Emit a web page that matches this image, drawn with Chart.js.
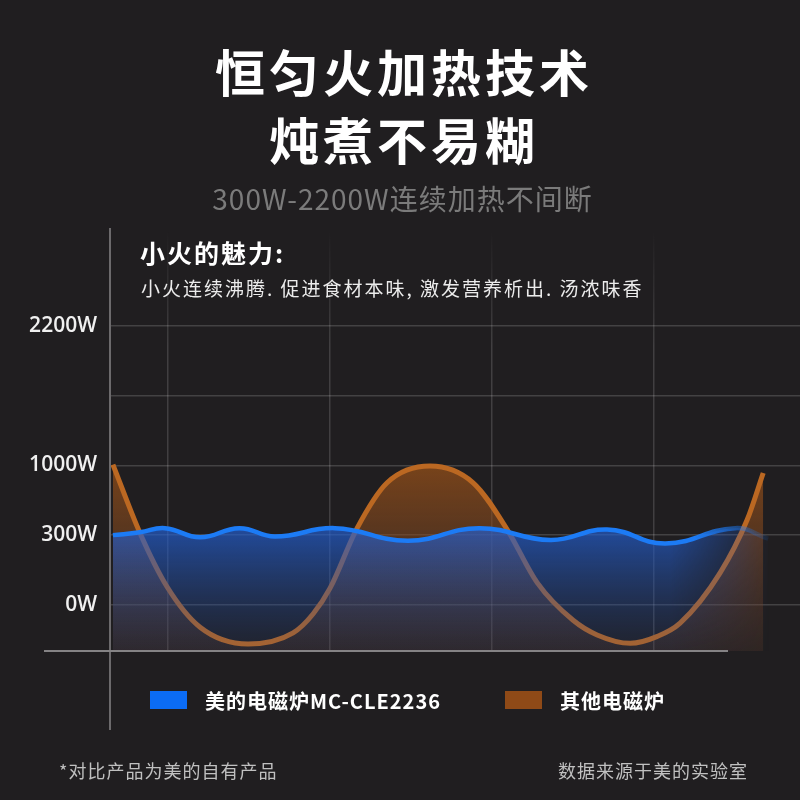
<!DOCTYPE html>
<html lang="zh-CN">
<head>
<meta charset="utf-8">
<title>恒匀火加热技术</title>
<script src="https://cdn.jsdelivr.net/npm/chart.js@4.4.1/dist/chart.umd.min.js"></script>
<style>
  html, body { margin: 0; padding: 0; background: #201e20; }
  #wrap { position: relative; width: 800px; height: 800px; overflow: hidden;
          font-family: "Noto Sans CJK SC", "Noto Sans", sans-serif; }
  #chart { position: absolute; left: 0; top: 0; }
  .txt { position: absolute; white-space: nowrap; }
  #title { left: 0; width: 808px; top: 36px; text-align: center; color: #fff;
           font-weight: 700; font-size: 50px; line-height: 68px; letter-spacing: 4px; }
  #subtitle { left: 0; width: 805px; top: 180px; text-align: center; color: #7b7b7b;
              font-size: 28px; line-height: 36px; letter-spacing: 1px; }
  #note1 { left: 140px; top: 236px; color: #fff; font-weight: 700; font-size: 25px;
           line-height: 32px; letter-spacing: 2px; }
  #note2 { left: 141px; top: 275px; color: #ececec; font-size: 19px; line-height: 26px;
           letter-spacing: 2px; }
  #foot-left { left: 59px; top: 758px; color: #c0c0c0; font-size: 18px; line-height: 24px; letter-spacing: 1px; }
  #foot-right { right: 52px; top: 758px; color: #c0c0c0; font-size: 18px; line-height: 24px; letter-spacing: 1px; }
  #legend { position: absolute; left: 0; top: 691px; width: 800px; height: 18px; }
  .legend-item { position: absolute; top: 0; display: flex; align-items: center; height: 18px; }
  .legend-item .box { width: 37px; height: 18px; margin-right: 18px; }
  .legend-item .lbl { color: #fff; font-weight: 700; font-size: 20px; letter-spacing: 1px; white-space: nowrap; }
</style>
</head>
<body>
<div id="wrap">
  <canvas id="chart" width="800" height="800"></canvas>
  <div id="title" class="txt">恒匀火加热技术<br>炖煮不易糊</div>
  <div id="subtitle" class="txt">300W-2200W连续加热不间断</div>
  <div id="note1" class="txt">小火的魅力:</div>
  <div id="note2" class="txt">小火连续沸腾. 促进食材本味, 激发营养析出. 汤浓味香</div>
  <div id="legend"></div>
  <div id="foot-left" class="txt">*对比产品为美的自有产品</div>
  <div id="foot-right" class="txt">数据来源于美的实验室</div>
</div>
<script>
// grid positions on the time axis and power levels on the y axis
const xTicks = [0, 10, 20, 30];
const yTickLabels = ["0W", "300W", "1000W", "", "2200W"];

const seriesNames = ["美的电磁炉MC-CLE2236", "其他电磁炉"];
const legendColors = ["#0b6cf5", "#8f4a17"];

// 美的电磁炉: steady small wave around 300W
const midX = [-3.40, -1.73, -0.19, 1.98, 4.40, 6.60, 10.30, 14.80, 19.20, 23.60, 27.10, 30.70, 35.00, 37.04];
const midY = [1.00, 1.04, 1.10, 0.97, 1.10, 0.98, 1.10, 0.92, 1.10, 0.93, 1.08, 0.88, 1.10, 0.95];

// 其他电磁炉: on/off swing between 1000W and below 0W
const otherX = [-3.40, -1.73, -0.06, 1.98, 4.94, 7.72, 8.95, 10.00, 11.67, 13.52, 16.17, 18.83, 20.93,
  22.78, 25.00, 26.48, 28.52, 30.20, 31.60, 34.07, 35.74, 36.73];
const otherY = [2.01, 1.03, 0.26, -0.32, -0.56, -0.40, -0.13, 0.24, 1.10, 1.75, 1.99, 1.75, 1.08,
  0.32, -0.22, -0.43, -0.55, -0.45, -0.26, 0.46, 1.22, 1.89];

const toPoints = (xs, ys) => xs.map((x, i) => ({ x, y: ys[i] }));

function vGridColor(c) {
  const area = c.chart.chartArea;
  if (!area) return "rgba(255,255,255,0.15)";
  const g = c.chart.ctx.createLinearGradient(0, area.top, 0, area.bottom);
  g.addColorStop(0, "rgba(255,255,255,0)");
  g.addColorStop(0.28, "rgba(255,255,255,0.15)");
  g.addColorStop(1, "rgba(255,255,255,0.15)");
  return g;
}

function orangeFill(c) {
  const chart = c.chart, area = chart.chartArea;
  if (!area) return "rgba(150,80,25,0.5)";
  const top = chart.scales.y.getPixelForValue(2);
  const g = chart.ctx.createLinearGradient(0, top, 0, area.bottom);
  g.addColorStop(0, "rgba(150,80,25,0.75)");
  g.addColorStop(1, "rgba(110,65,40,0.2)");
  return g;
}

function blueLine(c) {
  const chart = c.chart;
  if (!chart.chartArea) return "#1c7bf5";
  const x = chart.scales.x;
  const g = chart.ctx.createLinearGradient(x.getPixelForValue(32.5), 0, x.getPixelForValue(37.5), 0);
  g.addColorStop(0, "rgba(28,123,245,1)");
  g.addColorStop(1, "rgba(28,123,245,0)");
  return g;
}

// vertical gradient, faded out towards the right end
function blueFill(c) {
  const chart = c.chart, area = chart.chartArea;
  if (!area) return "rgba(35,95,210,0.5)";
  const off = document.createElement("canvas");
  off.width = chart.width; off.height = chart.height;
  const o = off.getContext("2d");
  const top = chart.scales.y.getPixelForValue(1.1);
  const v = o.createLinearGradient(0, top, 0, area.bottom);
  v.addColorStop(0, "rgba(35,95,210,0.7)");
  v.addColorStop(1, "rgba(35,70,140,0.12)");
  o.fillStyle = v;
  o.fillRect(0, 0, off.width, off.height);
  o.globalCompositeOperation = "destination-in";
  const x = chart.scales.x;
  const h = o.createLinearGradient(x.getPixelForValue(31), 0, x.getPixelForValue(37.2), 0);
  h.addColorStop(0, "rgba(0,0,0,1)");
  h.addColorStop(1, "rgba(0,0,0,0)");
  o.fillStyle = h;
  o.fillRect(0, 0, off.width, off.height);
  return chart.ctx.createPattern(off, "no-repeat");
}

// axis cross: y axis runs below the base line, base line runs left of the y axis
const axisLines = {
  id: "axisLines",
  afterDatasetsDraw(chart) {
    const { ctx, chartArea: a } = chart;
    ctx.save();
    ctx.lineWidth = 2;
    ctx.strokeStyle = "#6c6a6c";
    ctx.beginPath();
    ctx.moveTo(a.left, a.top);
    ctx.lineTo(a.left, a.bottom + 79);
    ctx.stroke();
    ctx.strokeStyle = "#858385";
    ctx.beginPath();
    ctx.moveTo(a.left - 66, a.bottom);
    ctx.lineTo(a.left + 618, a.bottom);
    ctx.stroke();
    ctx.restore();
  }
};

const chart = new Chart(document.getElementById("chart"), {
  type: "line",
  data: {
    datasets: [
      {
        label: seriesNames[0],
        data: toPoints(midX, midY),
        borderColor: blueLine,
        borderWidth: 4.5,
        backgroundColor: blueFill,
        fill: "start",
        pointRadius: 0,
        tension: 0.45
      },
      {
        label: seriesNames[1],
        data: toPoints(otherX, otherY),
        borderColor: "#bb6822",
        borderWidth: 5,
        backgroundColor: orangeFill,
        fill: "start",
        pointRadius: 0,
        cubicInterpolationMode: "monotone"
      }
    ]
  },
  options: {
    responsive: false,
    animation: false,
    devicePixelRatio: 1,
    layout: { padding: { top: 228, left: 0, right: 0, bottom: 149 } },
    plugins: { legend: { display: false }, tooltip: { enabled: false } },
    scales: {
      x: {
        type: "linear",
        min: -3.58,
        max: 39.0,
        afterBuildTicks: s => { s.ticks = xTicks.map(v => ({ value: v })); },
        afterFit: s => { s.height = 0; },
        ticks: { display: false },
        grid: { color: vGridColor, lineWidth: 1.5, drawTicks: false },
        border: { display: false }
      },
      y: {
        type: "linear",
        min: -0.66,
        max: 5.4,
        afterBuildTicks: s => { s.ticks = yTickLabels.map((_, i) => ({ value: i })); },
        afterFit: s => { s.width = 110; },
        ticks: {
          color: "#f0f0f0",
          padding: 13,
          font: { family: "Open Sans", size: 21, weight: 600 },
          callback: (v, i) => yTickLabels[i]
        },
        grid: { color: "rgba(255,255,255,0.16)", lineWidth: 1.5, drawTicks: false },
        border: { display: false }
      }
    }
  },
  plugins: [axisLines]
});

// html legend built from the chart's datasets
const legendX = [150, 505];
const legendEl = document.getElementById("legend");
chart.data.datasets.forEach((ds, i) => {
  const item = document.createElement("div");
  item.className = "legend-item";
  item.style.left = legendX[i] + "px";
  item.innerHTML = `<span class="box" style="background:${legendColors[i]}"></span><span class="lbl">${ds.label}</span>`;
  legendEl.appendChild(item);
});
</script>
</body>
</html>
